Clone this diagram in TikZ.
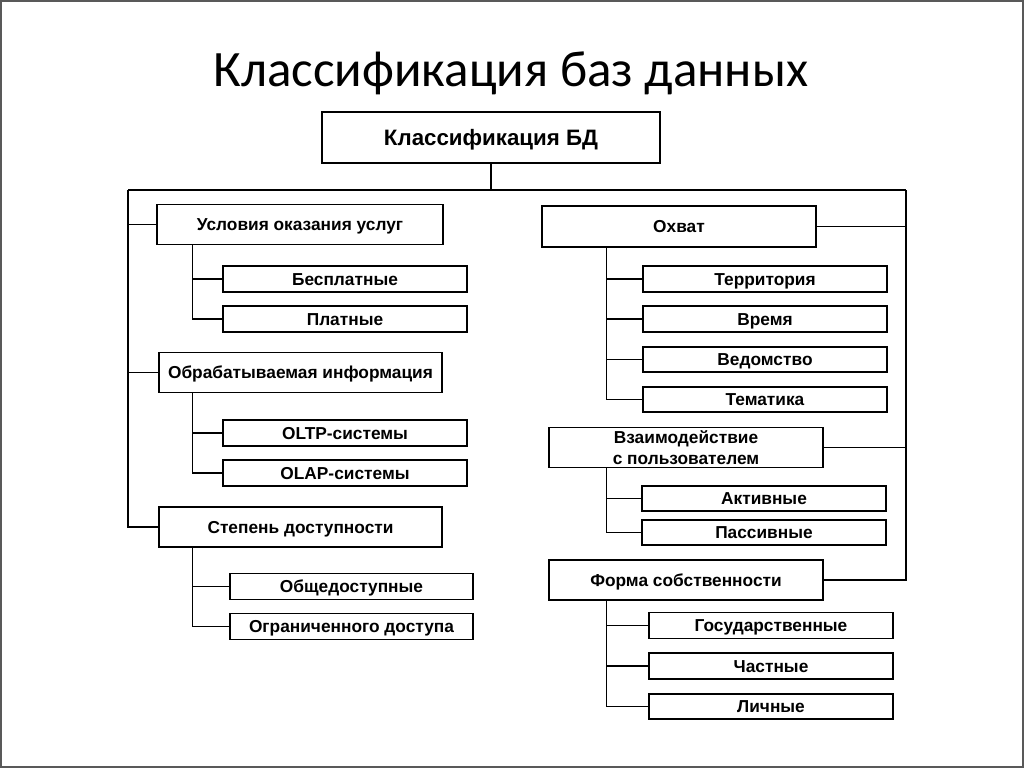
\documentclass[tikz,border=0pt]{standalone}
\usepackage{fontspec}
\setmainfont{Liberation Sans}
\newfontfamily\titlefont{Carlito}
\tikzset{
  onel/.style={text height=12pt, text depth=0pt},
  cat/.style={draw, line width=1.5pt, minimum height=40pt, inner sep=0pt,
    font=\bfseries\fontsize{17.3}{21}\selectfont, align=center},
  item/.style={draw, line width=1.5pt, minimum height=26pt, minimum width=244pt,
    inner sep=0pt, onel, font=\bfseries\fontsize{17.3}{20}\selectfont},
  link/.style={line width=1.5pt}
}
\begin{document}
\begin{tikzpicture}[x=1pt,y=-1pt]
\useasboundingbox (0,0) rectangle (1024,768);
\draw[black!65, line width=2pt] (1,1) rectangle (1023,767);
\node[font=\titlefont\fontsize{51}{58}\selectfont, anchor=base] (title) at (511,86) {Классификация баз данных};
\node[draw, line width=1.5pt, minimum width=338pt, minimum height=51pt, text height=15pt, text depth=0pt,
  font=\bfseries\fontsize{22.3}{26}\selectfont] (root) at (491,137.5) {Классификация БД};
% left side
\node[cat, onel, minimum width=286pt] (usl) at (300,224.5) {Условия оказания услуг};
\node[item] (bes) at (345,279) {Бесплатные};
\node[item] (plat) at (345,319) {Платные};
\node[cat, onel, minimum width=283pt] (obr) at (300.5,372.5) {Обрабатываемая информация};
\node[item] (oltp) at (345,433) {OLTP-системы};
\node[item] (olap) at (345,473) {OLAP-системы};
\node[cat, onel, minimum width=283pt] (step) at (300.5,527) {Степень доступности};
\node[item, minimum width=243pt] (obsh) at (351.5,586.5) {Общедоступные};
\node[item, minimum width=243pt] (ogr) at (351.5,626.5) {Ограниченного доступа};
% right side
\node[cat, onel, minimum width=274pt, minimum height=41pt] (ohv) at (679,226.5) {Охват};
\node[item] (terr) at (765,279) {Территория};
\node[item] (vrem) at (765,319) {Время};
\node[item, minimum height=25pt] (ved) at (765,359.5) {Ведомство};
\node[item, minimum height=25pt] (tem) at (765,399.5) {Тематика};
\node[cat, minimum width=274pt] (vz) at (686,447.5) {Взаимодействие\\с пользователем};
\node[item, minimum height=25pt] (akt) at (764,498.5) {Активные};
\node[item, minimum height=25pt] (pas) at (764,532.5) {Пассивные};
\node[cat, onel, minimum width=274pt] (form) at (686,580) {Форма собственности};
\node[item] (gos) at (771,625.5) {Государственные};
\node[item] (chas) at (771,666) {Частные};
\node[item, minimum height=25pt] (lich) at (771,706.5) {Личные};
% trunk
\coordinate (tl) at (128,190);
\coordinate (tr) at (906,190);
\draw[link] (root.south) -- (root.south |- tl);
\draw[link] (tl) -- (tr);
\draw[link] (tl) |- (usl.west);
\draw[link] (tl) |- (obr.west);
\draw[link] (tl) |- (step.west);
\draw[link] (tr) |- (ohv.east);
\draw[link] (tr) |- (vz.east);
\draw[link] (tr) |- (form.east);
% branches
\draw[link] ([xshift=36pt]usl.south west) |- (bes.west);
\draw[link] ([xshift=36pt]usl.south west) |- (plat.west);
\draw[link] ([xshift=34pt]obr.south west) |- (oltp.west);
\draw[link] ([xshift=34pt]obr.south west) |- (olap.west);
\draw[link] ([xshift=34pt]step.south west) |- (obsh.west);
\draw[link] ([xshift=34pt]step.south west) |- (ogr.west);
\draw[link] ([xshift=65pt]ohv.south west) |- (terr.west);
\draw[link] ([xshift=65pt]ohv.south west) |- (vrem.west);
\draw[link] ([xshift=65pt]ohv.south west) |- (ved.west);
\draw[link] ([xshift=65pt]ohv.south west) |- (tem.west);
\draw[link] ([xshift=58pt]vz.south west) |- (akt.west);
\draw[link] ([xshift=58pt]vz.south west) |- (pas.west);
\draw[link] ([xshift=58pt]form.south west) |- (gos.west);
\draw[link] ([xshift=58pt]form.south west) |- (chas.west);
\draw[link] ([xshift=58pt]form.south west) |- (lich.west);
\end{tikzpicture}
\end{document}
